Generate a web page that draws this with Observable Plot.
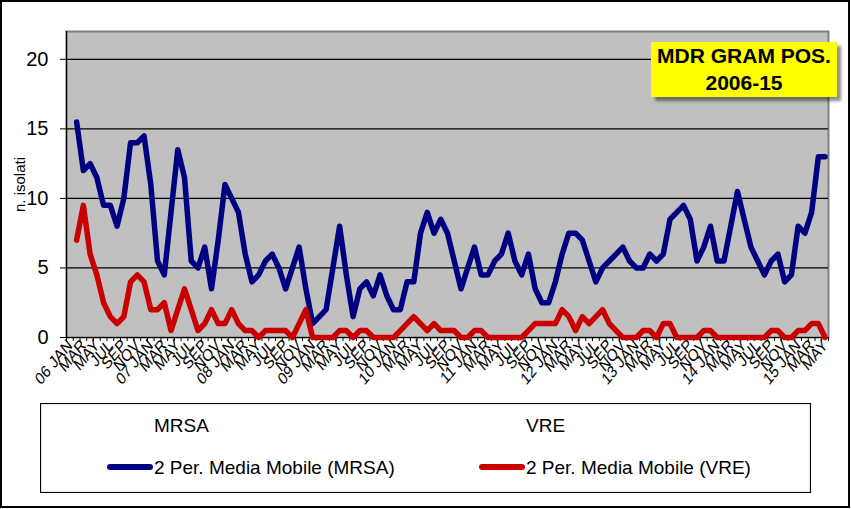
<!DOCTYPE html>
<html><head><meta charset="utf-8">
<script src="https://cdn.jsdelivr.net/npm/d3@7"></script>
<script src="https://cdn.jsdelivr.net/npm/@observablehq/plot@0.6"></script>
<style>
html,body{margin:0;padding:0;background:#fff;}
#wrap{position:relative;width:851px;height:509px;overflow:hidden;font-family:"Liberation Sans",Arial,sans-serif;background:#fff;}
#chart{position:absolute;left:0;top:0;}
#border{position:absolute;left:0;top:0;width:850px;height:508px;border:2px solid #000;box-sizing:border-box;pointer-events:none;}
#title{position:absolute;left:651px;top:42px;width:186px;height:55px;background:#ffff00;box-shadow:4px 4px 3px rgba(0,0,0,0.45);font-weight:bold;font-size:21px;line-height:27px;text-align:center;color:#000;}
#legend{position:absolute;left:40px;top:403px;}
</style></head><body>
<div id="wrap"><div id="chart"></div><div id="title"></div><svg id="legend" width="771" height="90"></svg><div id="border"></div></div>
<script>
// ---- data ----
const years = ["06","07","08","09","10","11","12","13","14","15"];
const months = ["JAN","FEB","MAR","APR","MAY","JUN","JUL","AUG","SEP","OCT","NOV","DEC"];
const nCategories = 113; // 06 JAN ... 15 MAY
const yTicks = [0, 5, 10, 15, 20];
const titleLines = ["MDR GRAM POS.", "2006-15"];
const seriesNames = ["MRSA", "VRE"];
const trendNames = ["2 Per. Media Mobile (MRSA)", "2 Per. Media Mobile (VRE)"];
const yLabel = "n. isolati";
// 2-period moving averages, first value at 06 FEB
const mrsaMA = [15.5,12,12.5,11.5,9.5,9.5,8,10,14,14,
  14.5,11,5.5,4.5,9,13.5,11.5,5.5,5,6.5,
  3.5,7,11,10,9,6,4,4.5,5.5,6,
  5,3.5,5,6.5,3.5,1,1.5,2,5,8,
  4.5,1.5,3.5,4,3,4.5,3,2,2,4,
  4,7.5,9,7.5,8.5,7.5,5.5,3.5,5,6.5,
  4.5,4.5,5.5,6,7.5,5.5,4.5,6,3.5,2.5,
  2.5,4,6,7.5,7.5,7,5.5,4,5,5.5,
  6,6.5,5.5,5,5,6,5.5,6,8.5,9,
  9.5,8.5,5.5,6.5,8,5.5,5.5,8,10.5,8.5,
  6.5,5.5,4.5,5.5,6,4,4.5,8,7.5,9,
  13,13];
const vreMA = [7,9.5,6,4.5,2.5,1.5,1,1.5,4,4.5,
  4,2,2,2.5,0.5,2,3.5,2,0.5,1,
  2,1,1,2,1,0.5,0.5,0,0.5,0.5,
  0.5,0.5,0,1,2,0,0,0,0,0.5,
  0.5,0,0.5,0.5,0,0,0,0,0.5,1,
  1.5,1,0.5,1,0.5,0.5,0.5,0,0,0.5,
  0.5,0,0,0,0,0,0,0.5,1,1,
  1,1,2,1.5,0.5,1.5,1,1.5,2,1,
  0.5,0,0,0,0.5,0.5,0,1,1,0,
  0,0,0,0.5,0.5,0,0,0,0,0,
  0,0,0,0.5,0.5,0,0,0.5,0.5,1,
  1,0];
const colors = {MRSA: "#000080", VRE: "#c80000"};

// ---- derived ----
const catLabels = d3.range(nCategories).map(i => i % 12 === 0 ? years[i / 12] + " JAN" : months[i % 12]);
const labelTicks = d3.range(0, nCategories, 2).map(i => i + 0.5);
const toPoints = arr => arr.map((v, k) => ({x: k + 1 + 0.5, v}));

const chart = Plot.plot({
  width: 851, height: 400,
  marginLeft: 66, marginRight: 23, marginTop: 31, marginBottom: 63,
  style: {fontFamily: "'Liberation Sans', Arial, sans-serif", color: "#000", background: "transparent", overflow: "visible"},
  x: {domain: [0, nCategories], axis: null},
  y: {domain: [0, 22], axis: null},
  marks: [
    Plot.frame({fill: "#c0c0c0", stroke: "#808080", strokeWidth: 2}),
    Plot.gridY([5, 10, 15, 20], {stroke: "#000", strokeOpacity: 1, strokeWidth: 1.2}),
    Plot.ruleY([0], {stroke: "#000", strokeWidth: 1.2}),
    Plot.ruleX([0], {stroke: "#000", strokeWidth: 1.2}),
    Plot.axisY({ticks: yTicks, tickSize: 6, tickPadding: 12, fontSize: 20, label: null, stroke: "#000"}),
    Plot.axisY({ticks: [], label: yLabel, labelAnchor: "center", labelArrow: "none", labelOffset: 52, fontSize: 15}),
    Plot.axisX({ticks: d3.range(0, nCategories + 1), tickSize: 4, tickFormat: () => "", label: null}),
    Plot.axisX({ticks: labelTicks, tickSize: 0, tickRotate: -45, tickPadding: 5, fontSize: 17,
      tickFormat: d => catLabels[Math.round(d - 0.5)], label: null}),
    Plot.line(toPoints(mrsaMA), {x: "x", y: "v", stroke: colors.MRSA, strokeWidth: 5.5, strokeLinejoin: "round", strokeLinecap: "round"}),
    Plot.line(toPoints(vreMA), {x: "x", y: "v", stroke: colors.VRE, strokeWidth: 5.5, strokeLinejoin: "round", strokeLinecap: "round"})
  ]
});
// the reference's rotated labels look horizontally squeezed: add a horizontal scale before the rotation
chart.querySelectorAll("[aria-label='x-axis tick label'] text").forEach(t => {
  const tr = t.getAttribute("transform") || "";
  if (tr.includes("rotate(")) t.setAttribute("transform", tr.replace("rotate(", "scale(0.82,1) rotate("));
});
document.getElementById("chart").appendChild(chart);

// title box
document.getElementById("title").innerHTML = titleLines.join("<br>");

// legend
const lg = d3.select("#legend").style("font-family", "'Liberation Sans', Arial, sans-serif");
lg.append("rect").attr("x", 0.5).attr("y", 0.5).attr("width", 770).attr("height", 89)
  .attr("fill", "#fff").attr("stroke", "#000").attr("stroke-width", 1.2);
const colX = [114, 486];
seriesNames.forEach((name, j) => {
  lg.append("text").attr("x", colX[j]).attr("y", 29).attr("font-size", 19).attr("fill", "#000").text(name);
  lg.append("line").attr("x1", colX[j] - 44).attr("x2", colX[j] - 4).attr("y1", 64).attr("y2", 64)
    .attr("stroke", colors[name]).attr("stroke-width", 6).attr("stroke-linecap", "round");
  lg.append("text").attr("x", colX[j]).attr("y", 71).attr("font-size", 19).attr("fill", "#000").text(trendNames[j]);
});
</script>
</body></html>
